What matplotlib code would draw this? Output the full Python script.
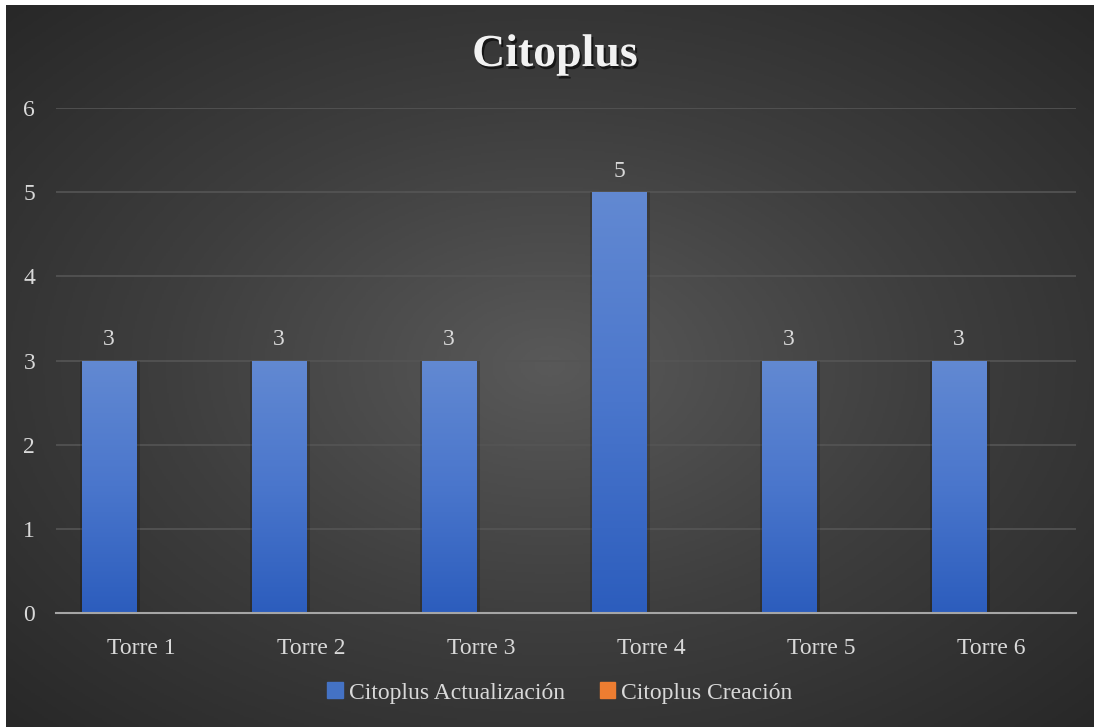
import numpy as np
import matplotlib
matplotlib.use("Agg")
import matplotlib.pyplot as plt
import matplotlib.patheffects as pe
from matplotlib.colors import LinearSegmentedColormap

categories = ["Torre 1", "Torre 2", "Torre 3", "Torre 4", "Torre 5", "Torre 6"]
actualizacion = [3, 3, 3, 5, 3, 3]
creacion = [0, 0, 0, 0, 0, 0]
series_names = ["Citoplus Actualización", "Citoplus Creación"]

plt.rcParams['font.family'] = ['Liberation Serif', 'DejaVu Serif']

W, H = 1094, 727
fig = plt.figure(figsize=(W / 100, H / 100), dpi=100)
fig.patch.set_facecolor("white")

# radial gradient background (chart area, white margin top/left)
bg = fig.add_axes([6 / W, 0, 1 - 6 / W, 1 - 5 / H])
yy, xx = np.mgrid[-1:1:400j, -1:1:600j]
r = np.sqrt(xx ** 2 + yy ** 2) / np.sqrt(2)
bg_cmap = LinearSegmentedColormap.from_list("bg", ["#595959", "#3e3e3e", "#282828"])
bg.imshow(r, cmap=bg_cmap, aspect="auto", extent=[0, 1, 0, 1], vmin=0, vmax=1)
bg.set_axis_off()

ax = fig.add_axes([56 / W, (H - 613) / H, 1020 / W, 505 / H])
ax.patch.set_alpha(0)

x = np.arange(len(categories))
width = 0.318
offset = 0.188

bar_cmap = LinearSegmentedColormap.from_list("bar", ["#2c5dbd", "#4a76cc", "#6289d2"])
grad = np.linspace(0, 1, 256).reshape(-1, 1)

for xi, v in zip(x, actualizacion):
    left = xi - offset - width / 2
    # soft shadow around bar
    ax.bar(xi - offset + 0.004, v, width + 0.035, color="black", alpha=0.18, zorder=2)
    b = ax.bar(xi - offset, v, width, color="#4472c4", zorder=3)[0]
    im = ax.imshow(grad, cmap=bar_cmap, origin="lower", aspect="auto",
                   extent=[left, left + width, 0, v], zorder=3.5)
    im.set_clip_path(b)
    ax.text(xi - offset, v + 0.12, str(v), ha="center", va="bottom",
            color="#d9d9d9", fontsize=17)

ax.bar(x + offset, creacion, width, color="#ed7d31", zorder=3)

ax.set_xlim(-0.5, len(categories) - 0.5)
ax.set_ylim(0, 6)
ax.set_yticks(range(0, 7))
ax.set_xticks(x)
ax.set_xticklabels(categories)
ax.tick_params(axis="both", length=0, colors="#d9d9d9", labelsize=17)
ax.tick_params(axis="y", pad=15)
ax.tick_params(axis="x", pad=18)
ax.grid(axis="y", color="#555555", linewidth=1.2, zorder=0)
for s in ["top", "right", "left"]:
    ax.spines[s].set_visible(False)
ax.spines["bottom"].set_color("#a6a6a6")
ax.spines["bottom"].set_linewidth(1.5)
ax.spines["bottom"].set_zorder(5)

fig.text(555 / W, 1 - 55 / H, "Citoplus", ha="center", va="center", color="#f2f2f2",
         fontsize=33, fontweight="bold",
         path_effects=[pe.SimplePatchShadow(offset=(1.5, -2), shadow_rgbFace="black", alpha=0.6),
                       pe.Normal()])

handles = [plt.Rectangle((0, 0), 1, 1, color="#4472c4"),
           plt.Rectangle((0, 0), 1, 1, color="#ed7d31")]
leg = fig.legend(handles, series_names, loc="center", bbox_to_anchor=(560 / W, 1 - 693 / H),
                 ncol=2, frameon=False, fontsize=17, handlelength=0.65, handleheight=0.65,
                 handletextpad=0.25, columnspacing=1.5, labelcolor="#d9d9d9")

fig.savefig("out.png", dpi=100, facecolor=fig.get_facecolor())
